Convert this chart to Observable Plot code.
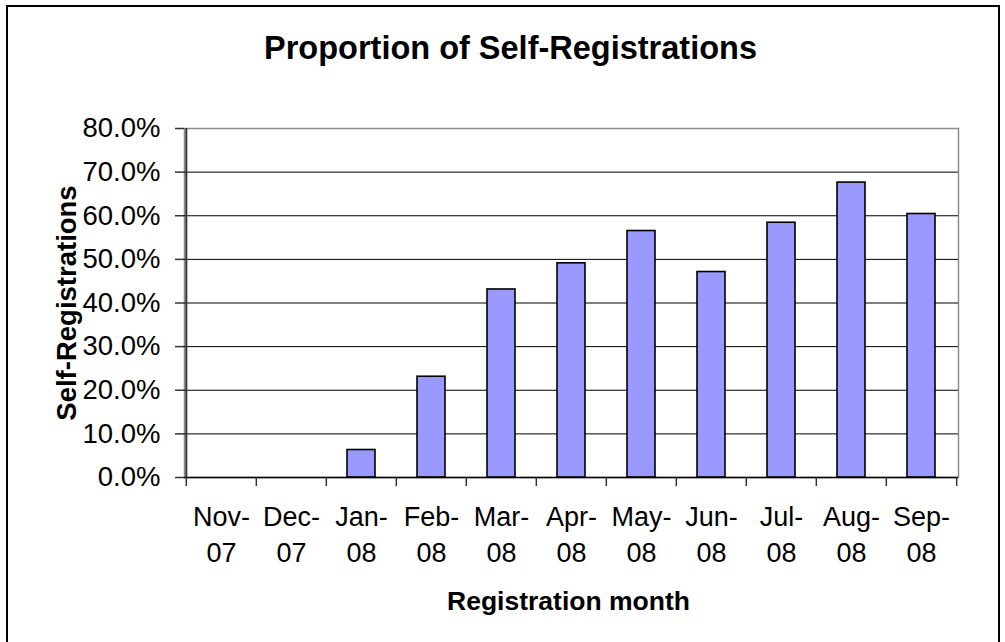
<!DOCTYPE html>
<html>
<head>
<meta charset="utf-8">
<script src="https://cdn.jsdelivr.net/npm/d3@7"></script>
<script src="https://cdn.jsdelivr.net/npm/@observablehq/plot@0.6"></script>
<style>
  html, body { margin: 0; padding: 0; background: #fff; }
  #wrap { position: relative; width: 1005px; height: 642px; overflow: hidden; }
  #border { position: absolute; left: 6px; top: 5px; width: 990px; height: 700px;
            border-left: 2px solid #000; border-top: 2px solid #000; border-right: 2px solid #000; }
  svg { position: absolute; left: 0; top: 0; }
</style>
</head>
<body>
<div id="wrap"><div id="border"></div></div>
<script>
const months = ["Nov-07", "Dec-07", "Jan-08", "Feb-08", "Mar-08", "Apr-08", "May-08", "Jun-08", "Jul-08", "Aug-08", "Sep-08"];
const selfRegShare = [0, 0, 0.063, 0.231, 0.431, 0.491, 0.565, 0.471, 0.584, 0.676, 0.604];
const yTicks = [0, 0.1, 0.2, 0.3, 0.4, 0.5, 0.6, 0.7, 0.8];
const gridTicks = [0.1, 0.2, 0.3, 0.4, 0.5, 0.6, 0.7];
const titleText = "Proportion of Self-Registrations";
const yTitle = "Self-Registrations";
const xTitle = "Registration month";

const data = months.map((m, i) => ({month: m, value: selfRegShare[i]}));

const W = 1005, H = 642;
const ML = 184, MR = 47, MT = 128, MB = 165;
const step = (W - ML - MR) / months.length;
const font = "'Liberation Sans', Arial, sans-serif";

const chart = Plot.plot({
  width: W,
  height: H,
  marginLeft: ML,
  marginRight: MR,
  marginTop: MT,
  marginBottom: MB,
  style: {fontFamily: font, background: "transparent", color: "#000"},
  x: {domain: months, paddingInner: 0.6, paddingOuter: 0.3, axis: null},
  y: {domain: [0, 0.8], axis: null},
  marks: [
    Plot.frame({stroke: "#8c8c8c", strokeWidth: 1.5}),
    Plot.ruleY(gridTicks, {stroke: "#000", strokeWidth: 1}),
    Plot.barY(data, {x: "month", y: "value", fill: "#9999ff", stroke: "#000", strokeWidth: 1.6}),
    Plot.ruleY([0], {stroke: "#000", strokeWidth: 1.5}),
    Plot.ruleX([months[0]], {dx: -step / 2, stroke: "#333", strokeWidth: 2}),
    Plot.axisY({ticks: yTicks, tickSize: 9, tickPadding: 15, tickFormat: d3.format(".1%"),
                fontSize: 27.5, label: null, stroke: "#333", strokeWidth: 1.5}),
    Plot.axisX({tickSize: 9, tickFormat: () => "", label: null, dx: -step / 2, stroke: "#333", strokeWidth: 1.5}),
    Plot.axisX({ticks: [months[months.length - 1]], tickSize: 9, tickFormat: () => "", label: null, dx: step / 2, stroke: "#333", strokeWidth: 1.5}),
    Plot.axisX({tickSize: 0, tickPadding: 23, fontSize: 27, lineHeight: 1.34, label: null,
                tickFormat: d => d.replace("-", "-\n")}),
    Plot.text([titleText], {frameAnchor: "top", dx: -61, dy: -70, lineAnchor: "bottom",
                            fontSize: 32.5, fontWeight: "bold"}),
    Plot.text([yTitle], {frameAnchor: "left", dx: -117, rotate: -90, lineAnchor: "middle", textAnchor: "middle",
                         fontSize: 27.5, fontWeight: "bold"}),
    Plot.text([xTitle], {frameAnchor: "bottom", dx: -3, dy: 132, lineAnchor: "bottom",
                         fontSize: 26.5, fontWeight: "bold"})
  ]
});

document.getElementById("wrap").appendChild(chart);
</script>
</body>
</html>
